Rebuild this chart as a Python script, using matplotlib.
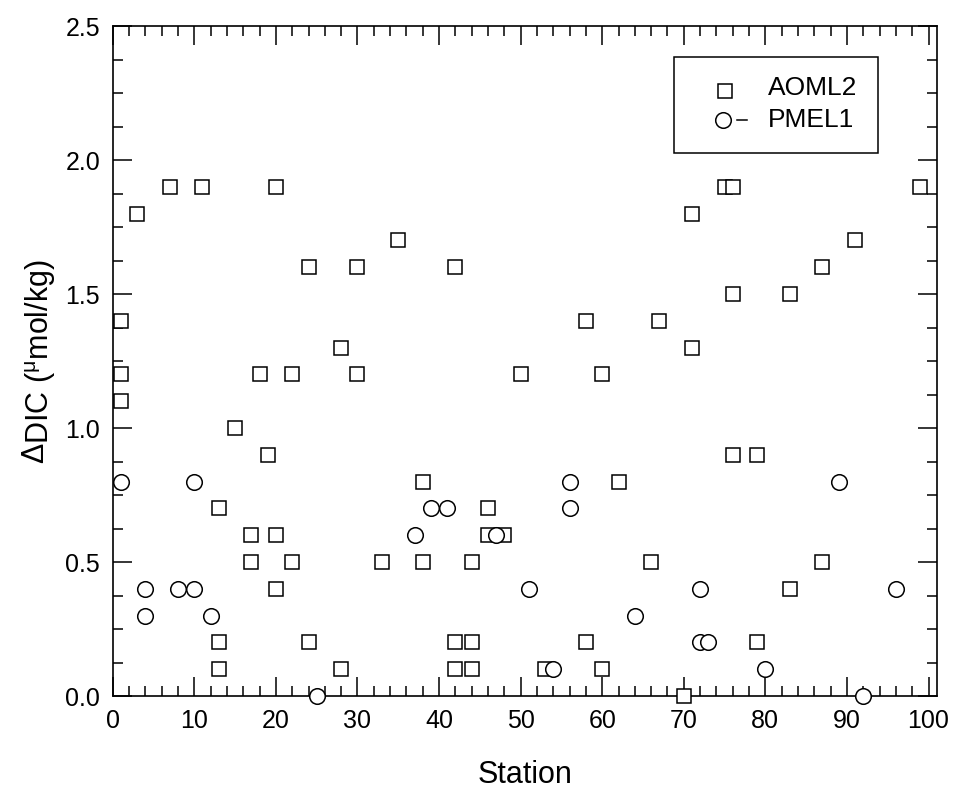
import numpy as np
import matplotlib
matplotlib.use("Agg")
import matplotlib.pyplot as plt
from matplotlib.ticker import MultipleLocator
from matplotlib.patches import Rectangle

plt.rcParams['font.family'] = ['Liberation Sans', 'DejaVu Sans']
plt.rcParams['mathtext.fontset'] = 'custom'
plt.rcParams['mathtext.rm'] = 'Liberation Sans'

# AOML2 (squares)
aoml2_station = [1, 1, 1, 3, 7, 11, 20, 24, 30, 35, 28, 18, 22, 30, 15, 19, 13, 17, 20, 17,
                 22, 20, 13, 13, 24, 28, 33, 38, 38, 42, 42, 44, 42, 44, 44, 46, 46, 48, 50, 53,
                 58, 58, 60, 60, 62, 66, 67, 70, 71, 71, 75, 76, 76, 76, 79, 79, 83, 83, 87, 87,
                 91, 99]
aoml2_ddic = [1.4, 1.2, 1.1, 1.8, 1.9, 1.9, 1.9, 1.6, 1.6, 1.7, 1.3, 1.2, 1.2, 1.2, 1.0, 0.9, 0.7, 0.6, 0.6, 0.5,
              0.5, 0.4, 0.2, 0.1, 0.2, 0.1, 0.5, 0.8, 0.5, 1.6, 0.2, 0.2, 0.1, 0.1, 0.5, 0.7, 0.6, 0.6, 1.2, 0.1,
              1.4, 0.2, 1.2, 0.1, 0.8, 0.5, 1.4, 0.0, 1.8, 1.3, 1.9, 1.9, 1.5, 0.9, 0.9, 0.2, 1.5, 0.4, 1.6, 0.5,
              1.7, 1.9]

# PMEL1 (circles)
pmel1_station = [1, 10, 4, 8, 10, 4, 12, 25, 37, 39, 41, 47, 51, 54, 56, 56, 64, 72, 72, 73,
                 80, 89, 92, 96]
pmel1_ddic = [0.8, 0.8, 0.4, 0.4, 0.4, 0.3, 0.3, 0.0, 0.6, 0.7, 0.7, 0.6, 0.4, 0.1, 0.8, 0.7, 0.3, 0.4, 0.2, 0.2,
              0.1, 0.8, 0.0, 0.4]

W, H = 954, 792
fig = plt.figure(figsize=(W / 100, H / 100), dpi=100)
ax = fig.add_axes([112.7 / W, 1 - 696 / H, 824 / W, 670 / H])

ax.plot(aoml2_station, aoml2_ddic, 's', ms=10.2, mfc='white', mec='black', mew=1.1,
        clip_on=False, zorder=3)
ax.plot(pmel1_station, pmel1_ddic, 'o', ms=11.2, mfc='white', mec='black', mew=1.1,
        clip_on=False, zorder=4)

ax.set_xlim(0, 101)
ax.set_ylim(0, 2.5)
ax.xaxis.set_major_locator(MultipleLocator(10))
ax.xaxis.set_minor_locator(MultipleLocator(2))
ax.yaxis.set_major_locator(MultipleLocator(0.5))
ax.yaxis.set_minor_locator(MultipleLocator(0.125))
ax.yaxis.set_major_formatter(matplotlib.ticker.FormatStrFormatter('%.1f'))
ax.set_xticks(np.arange(0, 101, 10))

ax.tick_params(which='both', direction='in', top=True, right=True, width=1.1, color='black')
ax.tick_params(which='major', length=13.5, labelsize=18, pad=9)
ax.tick_params(which='minor', length=7)
for s in ax.spines.values():
    s.set_linewidth(1.2)

ax.set_xlabel('Station', fontsize=22, labelpad=20)

# y label: raised Delta drawn as its own text in front of the main label
lab_fs = 22
ylab = fig.text(0, 0, r'DIC ($\mathregular{^{\mu}}$mol/kg)', fontsize=lab_fs,
                rotation=90, rotation_mode='anchor', ha='left', va='baseline')
delta = fig.text(0, 0, '\u0394', fontsize=lab_fs, rotation=90, rotation_mode='anchor',
                 ha='left', va='baseline')
r = fig.canvas.get_renderer()
lab_h = ylab.get_window_extent(r).height
d_h = delta.get_window_extent(r).height
gap = -1.0
total = lab_h + d_h + gap
y_start = H - (26 + 696) / 2 - total / 2   # display coords, from bottom
base_x = 49.0
delta.set_position(((base_x - 6) / W, y_start / H))
ylab.set_position((base_x / W, (y_start + d_h + gap) / H))

# legend drawn by hand
ax.add_patch(Rectangle((0.681, 0.810), 0.248, 0.144, transform=ax.transAxes,
                       fill=False, ec='black', lw=1.1, zorder=5))
ax.plot([0.743], [0.903], 's', ms=10.2, mfc='white', mec='black', mew=1.1, transform=ax.transAxes, zorder=6)
ax.plot([0.741], [0.860], 'o', ms=11.2, mfc='white', mec='black', mew=1.1, transform=ax.transAxes, zorder=6)
ax.plot([0.758, 0.770], [0.860, 0.860], '-', color='black', lw=1.1, transform=ax.transAxes, zorder=6)
ax.text(0.795, 0.897, 'AOML2', transform=ax.transAxes, fontsize=19, va='baseline', ha='left')
ax.text(0.795, 0.849, 'PMEL1', transform=ax.transAxes, fontsize=19, va='baseline', ha='left')

fig.savefig('out.png', dpi=100)
